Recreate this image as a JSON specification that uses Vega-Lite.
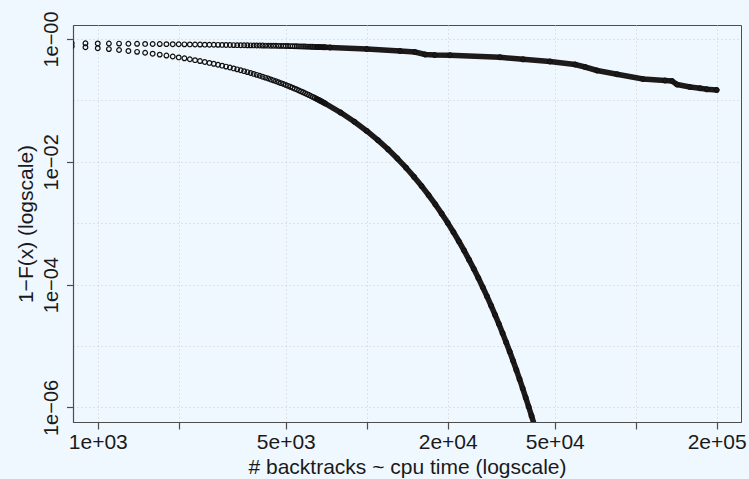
{
  "$schema": "https://vega.github.io/schema/vega-lite/v6.json",
  "width": 668,
  "height": 397,
  "autosize": {"type": "none"},
  "padding": {"left": 73, "top": 25, "right": 8, "bottom": 57},
  "background": "#f0f8ff",
  "config": {
    "font": "Liberation Sans",
    "view": {"fill": "#f0f8ff", "stroke": "#4d4d4d", "strokeWidth": 1},
    "axis": {
      "domainColor": "#4d4d4d",
      "domainWidth": 1.2,
      "tickColor": "#4d4d4d",
      "tickWidth": 1.2,
      "labelColor": "#1a1a1a",
      "titleColor": "#1a1a1a",
      "titleFontWeight": "normal",
      "labelFont": "Liberation Sans",
      "titleFont": "Liberation Sans",
      "grid": true,
      "gridColor": "#cccccc",
      "gridDash": [1, 3],
      "gridWidth": 1,
      "labelFlush": false,
      "labelOverlap": false
    }
  },
  "data": {
    "values": [
      {"s": "a", "x": 800, "y": 0.8551},
      {"s": "a", "x": 900, "y": 0.8511},
      {"s": "a", "x": 1000, "y": 0.8472},
      {"s": "a", "x": 1100, "y": 0.8441},
      {"s": "a", "x": 1200, "y": 0.8410},
      {"s": "a", "x": 1300, "y": 0.8379},
      {"s": "a", "x": 1400, "y": 0.8348},
      {"s": "a", "x": 1500, "y": 0.8318},
      {"s": "a", "x": 1600, "y": 0.8295},
      {"s": "a", "x": 1700, "y": 0.8272},
      {"s": "a", "x": 1800, "y": 0.8249},
      {"s": "a", "x": 1900, "y": 0.8226},
      {"s": "a", "x": 2000, "y": 0.8204},
      {"s": "a", "x": 2100, "y": 0.8181},
      {"s": "a", "x": 2200, "y": 0.8159},
      {"s": "a", "x": 2300, "y": 0.8136},
      {"s": "a", "x": 2400, "y": 0.8114},
      {"s": "a", "x": 2500, "y": 0.8091},
      {"s": "a", "x": 2600, "y": 0.8072},
      {"s": "a", "x": 2700, "y": 0.8054},
      {"s": "a", "x": 2800, "y": 0.8035},
      {"s": "a", "x": 2900, "y": 0.8017},
      {"s": "a", "x": 3000, "y": 0.7998},
      {"s": "a", "x": 3100, "y": 0.7980},
      {"s": "a", "x": 3200, "y": 0.7962},
      {"s": "a", "x": 3300, "y": 0.7943},
      {"s": "a", "x": 3400, "y": 0.7925},
      {"s": "a", "x": 3500, "y": 0.7907},
      {"s": "a", "x": 3600, "y": 0.7892},
      {"s": "a", "x": 3700, "y": 0.7878},
      {"s": "a", "x": 3800, "y": 0.7863},
      {"s": "a", "x": 3900, "y": 0.7849},
      {"s": "a", "x": 4000, "y": 0.7834},
      {"s": "a", "x": 4100, "y": 0.7820},
      {"s": "a", "x": 4200, "y": 0.7805},
      {"s": "a", "x": 4300, "y": 0.7791},
      {"s": "a", "x": 4400, "y": 0.7777},
      {"s": "a", "x": 4500, "y": 0.7762},
      {"s": "a", "x": 4600, "y": 0.7752},
      {"s": "a", "x": 4700, "y": 0.7741},
      {"s": "a", "x": 4800, "y": 0.7730},
      {"s": "a", "x": 4900, "y": 0.7720},
      {"s": "a", "x": 5000, "y": 0.7709},
      {"s": "a", "x": 5100, "y": 0.7690},
      {"s": "a", "x": 5200, "y": 0.7670},
      {"s": "a", "x": 5300, "y": 0.7651},
      {"s": "a", "x": 5400, "y": 0.7632},
      {"s": "a", "x": 5500, "y": 0.7612},
      {"s": "a", "x": 5600, "y": 0.7593},
      {"s": "a", "x": 5700, "y": 0.7574},
      {"s": "a", "x": 5800, "y": 0.7555},
      {"s": "a", "x": 5900, "y": 0.7536},
      {"s": "a", "x": 6000, "y": 0.7516},
      {"s": "a", "x": 6100, "y": 0.7497},
      {"s": "a", "x": 6200, "y": 0.7478},
      {"s": "a", "x": 6300, "y": 0.7459},
      {"s": "a", "x": 6400, "y": 0.7440},
      {"s": "a", "x": 6500, "y": 0.7421},
      {"s": "a", "x": 6600, "y": 0.7403},
      {"s": "a", "x": 6700, "y": 0.7384},
      {"s": "a", "x": 6800, "y": 0.7365},
      {"s": "a", "x": 6900, "y": 0.7346},
      {"s": "a", "x": 7000, "y": 0.7328},
      {"s": "a", "x": 7300, "y": 0.7271},
      {"s": "a", "x": 10000, "y": 0.6875},
      {"s": "a", "x": 13300, "y": 0.6376},
      {"s": "a", "x": 15100, "y": 0.6142},
      {"s": "a", "x": 16500, "y": 0.5595},
      {"s": "a", "x": 17900, "y": 0.5491},
      {"s": "a", "x": 20400, "y": 0.5430},
      {"s": "a", "x": 31300, "y": 0.5036},
      {"s": "a", "x": 38100, "y": 0.4671},
      {"s": "a", "x": 48000, "y": 0.4302},
      {"s": "a", "x": 59500, "y": 0.3844},
      {"s": "a", "x": 64800, "y": 0.3499},
      {"s": "a", "x": 71800, "y": 0.3070},
      {"s": "a", "x": 85200, "y": 0.2663},
      {"s": "a", "x": 106400, "y": 0.2233},
      {"s": "a", "x": 128500, "y": 0.2110},
      {"s": "a", "x": 136400, "y": 0.2071},
      {"s": "a", "x": 142400, "y": 0.1816},
      {"s": "a", "x": 159100, "y": 0.1654},
      {"s": "a", "x": 173400, "y": 0.1575},
      {"s": "a", "x": 184000, "y": 0.1517},
      {"s": "a", "x": 200000, "y": 0.1478},
      {"s": "b", "x": 800, "y": 0.7590},
      {"s": "b", "x": 900, "y": 0.7333},
      {"s": "b", "x": 1000, "y": 0.7084},
      {"s": "b", "x": 1100, "y": 0.6844},
      {"s": "b", "x": 1200, "y": 0.6612},
      {"s": "b", "x": 1300, "y": 0.6388},
      {"s": "b", "x": 1400, "y": 0.6172},
      {"s": "b", "x": 1500, "y": 0.5963},
      {"s": "b", "x": 1600, "y": 0.5761},
      {"s": "b", "x": 1700, "y": 0.5566},
      {"s": "b", "x": 1800, "y": 0.5377},
      {"s": "b", "x": 1900, "y": 0.5195},
      {"s": "b", "x": 2000, "y": 0.5019},
      {"s": "b", "x": 2100, "y": 0.4849},
      {"s": "b", "x": 2200, "y": 0.4685},
      {"s": "b", "x": 2300, "y": 0.4526},
      {"s": "b", "x": 2400, "y": 0.4373},
      {"s": "b", "x": 2500, "y": 0.4225},
      {"s": "b", "x": 2600, "y": 0.4082},
      {"s": "b", "x": 2700, "y": 0.3944},
      {"s": "b", "x": 2800, "y": 0.3810},
      {"s": "b", "x": 2900, "y": 0.3681},
      {"s": "b", "x": 3000, "y": 0.3556},
      {"s": "b", "x": 3100, "y": 0.3436},
      {"s": "b", "x": 3200, "y": 0.3320},
      {"s": "b", "x": 3300, "y": 0.3207},
      {"s": "b", "x": 3400, "y": 0.3098},
      {"s": "b", "x": 3500, "y": 0.2993},
      {"s": "b", "x": 3600, "y": 0.2892},
      {"s": "b", "x": 3700, "y": 0.2794},
      {"s": "b", "x": 3800, "y": 0.2699},
      {"s": "b", "x": 3900, "y": 0.2608},
      {"s": "b", "x": 4000, "y": 0.2520},
      {"s": "b", "x": 4100, "y": 0.2434},
      {"s": "b", "x": 4200, "y": 0.2352},
      {"s": "b", "x": 4300, "y": 0.2272},
      {"s": "b", "x": 4400, "y": 0.2195},
      {"s": "b", "x": 4500, "y": 0.2121},
      {"s": "b", "x": 4600, "y": 0.2049},
      {"s": "b", "x": 4700, "y": 0.1979},
      {"s": "b", "x": 4800, "y": 0.1912},
      {"s": "b", "x": 4900, "y": 0.1848},
      {"s": "b", "x": 5000, "y": 0.1785},
      {"s": "b", "x": 5100, "y": 0.1725},
      {"s": "b", "x": 5200, "y": 0.1666},
      {"s": "b", "x": 5300, "y": 0.1610},
      {"s": "b", "x": 5400, "y": 0.1555},
      {"s": "b", "x": 5500, "y": 0.1503},
      {"s": "b", "x": 5600, "y": 0.1452},
      {"s": "b", "x": 5700, "y": 0.1403},
      {"s": "b", "x": 5800, "y": 0.1355},
      {"s": "b", "x": 5900, "y": 0.1309},
      {"s": "b", "x": 6000, "y": 0.1265},
      {"s": "b", "x": 6100, "y": 0.1222},
      {"s": "b", "x": 6200, "y": 0.1181},
      {"s": "b", "x": 6300, "y": 0.1141},
      {"s": "b", "x": 6400, "y": 0.1102},
      {"s": "b", "x": 6500, "y": 0.1065},
      {"s": "b", "x": 6600, "y": 0.1029},
      {"s": "b", "x": 6700, "y": 0.0994},
      {"s": "b", "x": 6800, "y": 0.0960},
      {"s": "b", "x": 6900, "y": 0.0928},
      {"s": "b", "x": 7000, "y": 0.0896},
      {"s": "b", "x": 8000, "y": 0.06344},
      {"s": "b", "x": 9000, "y": 0.04495},
      {"s": "b", "x": 10000, "y": 0.03184},
      {"s": "b", "x": 11000, "y": 0.02256},
      {"s": "b", "x": 12000, "y": 0.01598},
      {"s": "b", "x": 13000, "y": 0.01132},
      {"s": "b", "x": 14000, "y": 0.008020},
      {"s": "b", "x": 15000, "y": 0.005682},
      {"s": "b", "x": 16000, "y": 0.004025},
      {"s": "b", "x": 17000, "y": 0.002852},
      {"s": "b", "x": 18000, "y": 0.002020},
      {"s": "b", "x": 19000, "y": 0.001431},
      {"s": "b", "x": 20000, "y": 0.001014},
      {"s": "b", "x": 21000, "y": 0.0007183},
      {"s": "b", "x": 22000, "y": 0.0005089},
      {"s": "b", "x": 23000, "y": 0.0003605},
      {"s": "b", "x": 24000, "y": 0.0002554},
      {"s": "b", "x": 25000, "y": 0.0001809},
      {"s": "b", "x": 26000, "y": 0.0001282},
      {"s": "b", "x": 27000, "y": 0.00009081},
      {"s": "b", "x": 28000, "y": 0.00006433},
      {"s": "b", "x": 29000, "y": 0.00004558},
      {"s": "b", "x": 30000, "y": 0.00003229},
      {"s": "b", "x": 31000, "y": 0.00002288},
      {"s": "b", "x": 32000, "y": 0.00001621},
      {"s": "b", "x": 33000, "y": 0.00001148},
      {"s": "b", "x": 34000, "y": 0.000008133},
      {"s": "b", "x": 35000, "y": 0.000005762},
      {"s": "b", "x": 36000, "y": 0.000004082},
      {"s": "b", "x": 37000, "y": 0.000002892},
      {"s": "b", "x": 38000, "y": 0.000002049},
      {"s": "b", "x": 39000, "y": 0.000001451},
      {"s": "b", "x": 40000, "y": 0.000001028},
      {"s": "b", "x": 41000, "y": 0.0000007283},
      {"s": "b", "x": 42000, "y": 0.000000516},
      {"s": "b", "x": 43000, "y": 0.0000003656}
    ]
  },
  "encoding": {
    "x": {
      "field": "x",
      "type": "quantitative",
      "scale": {"type": "log", "domain": [809, 246300], "nice": false},
      "axis": {
        "title": "# backtracks ~ cpu time (logscale)",
        "values": [1000, 2000, 5000, 10000, 20000, 50000, 100000, 200000],
        "labelExpr": "datum.value == 1000 ? '1e+03' : datum.value == 5000 ? '5e+03' : datum.value == 20000 ? '2e+04' : datum.value == 50000 ? '5e+04' : datum.value == 200000 ? '2e+05' : ''",
        "tickSize": 7,
        "labelPadding": 2,
        "labelFontSize": 21,
        "titleFontSize": 21,
        "titlePadding": 4
      }
    },
    "y": {
      "field": "y",
      "type": "quantitative",
      "scale": {"type": "log", "domain": [5.8e-7, 1.69], "nice": false},
      "axis": {
        "title": "1−F(x) (logscale)",
        "values": [1, 0.1, 0.01, 0.001, 0.0001, 0.00001, 0.000001],
        "labelExpr": "round(log(datum.value)/LN10) % 2 != 0 ? '' : '1e−0' + abs(round(log(datum.value)/LN10))",
        "tickOpacity": {"condition": {"test": "round(log(datum.value)/LN10) % 2 != 0", "value": 0}, "value": 1},
        "tickSize": 6.5,
        "labelAngle": -90,
        "labelAlign": "center",
        "labelBaseline": "alphabetic",
        "labelPadding": 9,
        "labelFontSize": 20,
        "titleFontSize": 21,
        "titlePadding": 5
      }
    }
  },
  "layer": [
    {
      "transform": [{"filter": "datum.x >= 6500"}],
      "mark": {"type": "line", "strokeWidth": 5.5, "color": "#1e1a1a", "strokeCap": "round", "strokeJoin": "round", "clip": true},
      "encoding": {"detail": {"field": "s", "type": "nominal"}}
    },
    {
      "mark": {"type": "point", "shape": "circle", "filled": false, "size": 22, "strokeWidth": 1.2, "color": "#111111", "opacity": 1, "clip": true}
    }
  ]
}
